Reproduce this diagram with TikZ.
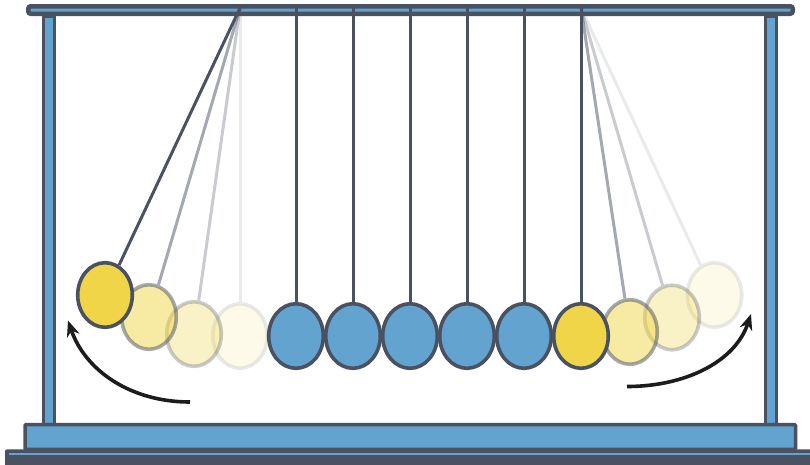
\documentclass[tikz,border=0pt]{standalone}
\usetikzlibrary{shapes.geometric, arrows.meta}
\definecolor{frame}{HTML}{4A5262}
\definecolor{steel}{HTML}{62A4CF}
\definecolor{brass}{HTML}{EFD547}
\definecolor{ink}{HTML}{1C1C1C}
\begin{document}
\begin{tikzpicture}[x=1pt, y=-1pt,
  ball/.style={ellipse, draw=frame, line width=3.6pt, minimum width=54.6pt,
    minimum height=64.6pt, inner sep=0pt},
  steelball/.style={ball, fill=steel},
  brassball/.style={ball, fill=brass},
  ghost/.style={ball, fill=brass, opacity=#1},
  wire/.style={draw=frame, line width=3pt},
  ghostwire/.style={wire, opacity=#1},
  beam/.style={draw=frame, fill=steel, line width=4.5pt, rounded corners=2.5pt},
  post/.style={draw=frame, fill=steel, line width=3pt},
  plinth/.style={draw=frame, fill=steel, line width=3.5pt, rounded corners=1pt},
  motion/.style={draw=ink, line width=3.6pt, -{Stealth[length=16pt, width=13pt]}}
]
\useasboundingbox (0,0) rectangle (810,464);

% --- frame: base plate, plinth, posts and top beam ---
\fill[frame, rounded corners=2pt] (5,449.3) rectangle (816,470);
\fill[steel] (8.5,452.7) rectangle (816,455.3);
\draw[post] (43.2,16) rectangle (54.3,424);
\draw[post] (765.5,16) rectangle (776.8,424);
\draw[plinth] (25,424.5) rectangle (795.5,449.3);
\draw[beam] (28.25,6.25) rectangle (792.75,13.75);

% --- suspension points ---
\coordinate (pl) at (240,8);
\coordinate (pr) at (581,8);
\coordinate (t1) at (296,8);
\coordinate (t2) at (353,8);
\coordinate (t3) at (410,8);
\coordinate (t4) at (467,8);
\coordinate (t5) at (524,8);

% --- left swing: fading trail, then the raised ball ---
\node[ghost=0.12] (g4) at (240,336) {};
\node[ghost=0.3]  (g3) at (194,334) {};
\node[ghost=0.5]  (g2) at (149,317) {};
\node[brassball]  (bL) at (105,295) {};

% --- right swing trail ---
\node[ghost=0.12] (h3) at (714.5,295) {};
\node[ghost=0.3]  (h2) at (672,317.5) {};
\node[ghost=0.5]  (h1) at (630,332) {};

% --- resting balls ---
\node[steelball] (s1) at (296,336) {};
\node[steelball] (s2) at (353,336) {};
\node[steelball] (s3) at (410,336) {};
\node[steelball] (s4) at (467,336) {};
\node[steelball] (s5) at (524,336) {};
\node[brassball] (bR) at (581,336) {};

% --- strings ---
\draw[ghostwire=0.12] (pl) -- (g4);
\draw[ghostwire=0.3]  (pl) -- (g3);
\draw[ghostwire=0.5]  (pl) -- (g2);
\draw[wire] (pl) -- (bL);
\draw[wire] (t1) -- (s1);
\draw[wire] (t2) -- (s2);
\draw[wire] (t3) -- (s3);
\draw[wire] (t4) -- (s4);
\draw[wire] (t5) -- (s5);
\draw[wire] (pr) -- (bR);
\draw[ghostwire=0.5]  (pr) -- (h1);
\draw[ghostwire=0.3]  (pr) -- (h2);
\draw[ghostwire=0.12] (pr) -- (h3);

% --- motion arrows ---
\coordinate (la0) at (190,402);
\coordinate (la1) at (68,320.5);
\coordinate (ra0) at (627,386.5);
\coordinate (ra1) at (751,314);
\draw[motion] (la0) .. controls (130,402) and (85,370) .. (la1);
\draw[motion] (ra0) .. controls (685,386.5) and (735,362) .. (ra1);
\end{tikzpicture}
\end{document}
